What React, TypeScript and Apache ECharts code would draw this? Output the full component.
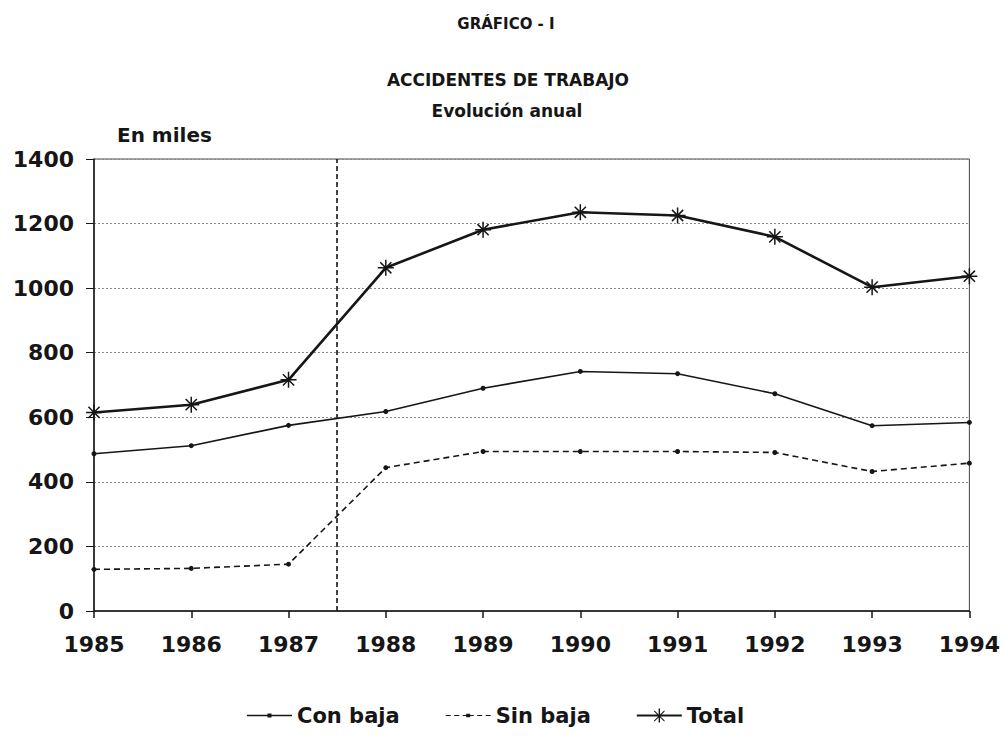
import React, { useEffect, useRef } from "react";
import * as echarts from "echarts";

const years = [1985, 1986, 1987, 1988, 1989, 1990, 1991, 1992, 1993, 1994];
const conBaja = [487, 512, 575, 618, 690, 742, 735, 673, 574, 584];
const sinBaja = [129, 132, 145, 444, 494, 494, 494, 491, 432, 458];
const total = [615, 639, 716, 1063, 1181, 1235, 1225, 1159, 1003, 1037];
const seriesNames = ["Con baja", "Sin baja", "Total"];
const yTicks = [0, 200, 400, 600, 800, 1000, 1200, 1400];
const divider = 1987.5;

const FONT = "'DejaVu Sans', sans-serif";
const INK = "#161616";
const STAR = "path://M10,0L10,20M0,10L20,10M3,3L17,17M3,17L17,3";

const ICON_CON = "path://M0,0.1h0.1v0.1h-0.1Z M0,6.3h45v1.4h-45Z M20.5,5h4v4h-4Z M44.9,13.8h0.1v0.1h-0.1Z";
const ICON_SIN =
  "path://M0,0.1h0.1v0.1h-0.1Z M0,6.4h5v1.2h-5Z M8.5,6.4h5v1.2h-5Z M17,6.4h3.5v1.2h-3.5Z M20.5,5.3h4v3.4h-4Z M24.5,6.4h3.5v1.2h-3.5Z M31.5,6.4h5v1.2h-5Z M40,6.4h5v1.2h-5Z M44.9,13.8h0.1v0.1h-0.1Z";
const ICON_TOT =
  "path://M0,6.1h45v1.8h-45Z M21.8,0h1.4v14h-1.4Z M17,2.7L17.7,2L28,12.3L27.3,13Z M27.3,2L28,2.7L17.7,13L17,12.3Z";

export default function App() {
  const ref = useRef<HTMLDivElement>(null);
  useEffect(() => {
    if (!ref.current) return;
    const chart = echarts.init(ref.current, null, { renderer: "svg" });
    const pairs = (vals: number[]) => years.map((y, i) => [y, vals[i]]);
    chart.setOption({
      animation: false,
      backgroundColor: "#fff",
      graphic: [
        { type: "text", x: 506, y: 24, style: { text: "GRÁFICO - I", font: `bold 15px ${FONT}`, fill: INK, textAlign: "center", textVerticalAlign: "middle" } },
        { type: "text", x: 508, y: 80, style: { text: "ACCIDENTES DE TRABAJO", font: `bold 17px ${FONT}`, fill: INK, textAlign: "center", textVerticalAlign: "middle" } },
        { type: "text", x: 507, y: 111, style: { text: "Evolución anual", font: `bold 17px ${FONT}`, fill: INK, textAlign: "center", textVerticalAlign: "middle" } },
        { type: "text", x: 117, y: 135, style: { text: "En miles", font: `bold 20px ${FONT}`, fill: INK, textAlign: "left", textVerticalAlign: "middle" } },
      ],
      legend: {
        left: 242,
        top: 700,
        itemWidth: 45,
        itemHeight: 14,
        itemGap: 46,
        data: [
          { name: seriesNames[0], icon: ICON_CON, itemStyle: { color: INK, borderWidth: 0 } },
          { name: seriesNames[1], icon: ICON_SIN, itemStyle: { color: INK, borderWidth: 0 } },
          { name: seriesNames[2], icon: ICON_TOT, itemStyle: { color: INK, borderWidth: 0 } },
        ],
        textStyle: { fontFamily: FONT, fontWeight: "bold", fontSize: 21, color: INK },
      },
      grid: { left: 94, right: 28, top: 159, bottom: 129, show: true, borderColor: "#444", borderWidth: 1 },
      xAxis: {
        type: "value",
        min: years[0],
        max: years[years.length - 1],
        interval: 1,
        axisLine: { lineStyle: { color: INK, width: 1.5 } },
        axisTick: { show: true, length: 7, lineStyle: { color: INK, width: 1.5 } },
        splitLine: { show: false },
        axisLabel: { color: INK, fontFamily: FONT, fontWeight: "bold", fontSize: 22, margin: 22, formatter: (v: number) => String(v) },
      },
      yAxis: {
        type: "value",
        min: yTicks[0],
        max: yTicks[yTicks.length - 1],
        interval: 200,
        axisLine: { show: true, lineStyle: { color: INK, width: 1.5 } },
        axisTick: { show: true, length: 8, lineStyle: { color: INK, width: 1 } },
        splitLine: { show: true, lineStyle: { color: "#8a8a8a", width: 1, type: [2, 2] } },
        axisLabel: { color: INK, fontFamily: FONT, fontWeight: "bold", fontSize: 22, margin: 20, formatter: (v: number) => String(v) },
      },
      series: [
        {
          name: seriesNames[0],
          type: "line",
          data: pairs(conBaja),
          symbol: "circle",
          symbolSize: 5,
          lineStyle: { color: INK, width: 1.6 },
          itemStyle: { color: INK },
          markLine: {
            silent: true,
            symbol: "none",
            label: { show: false },
            lineStyle: { color: INK, width: 1.6, type: [5, 3] },
            data: [{ xAxis: divider }],
          },
        },
        {
          name: seriesNames[1],
          type: "line",
          data: pairs(sinBaja),
          symbol: "circle",
          symbolSize: 5,
          lineStyle: { color: INK, width: 1.6, type: [6, 4] },
          itemStyle: { color: INK },
        },
        {
          name: seriesNames[2],
          type: "line",
          data: pairs(total),
          symbol: STAR,
          symbolSize: 16,
          lineStyle: { color: INK, width: 2.6 },
          itemStyle: { color: "transparent", borderColor: INK, borderWidth: 1.5 },
          z: 3,
        },
      ],
    });
    return () => chart.dispose();
  }, []);
  return <div ref={ref} style={{ width: 1003, height: 740, position: "absolute", left: 0, top: 0 }} />;
}
